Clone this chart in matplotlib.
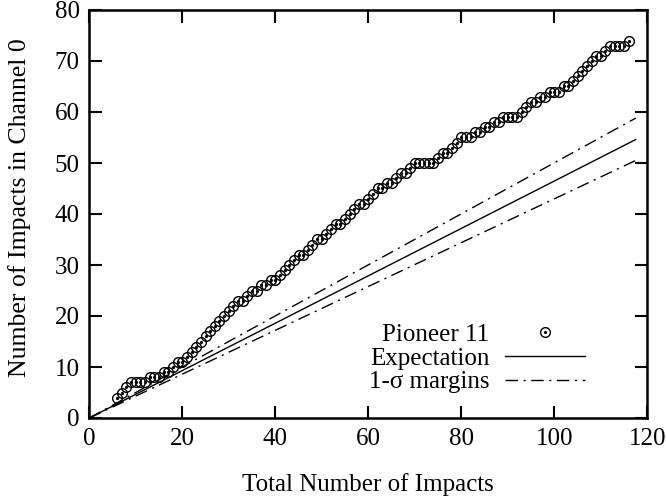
import matplotlib.pyplot as plt
from matplotlib.legend_handler import HandlerTuple

plt.rcParams['font.family'] = ['Liberation Serif', 'DejaVu Serif']

# Cumulative channel 0 counts against total number of impacts
total_impacts = list(range(6, 117))
channel0 = [4, 5, 6, 7, 7, 7, 7, 8, 8, 8, 9, 9, 10, 11, 11, 12, 13, 14, 15, 16,
            17, 18, 19, 20, 21, 22, 23, 23, 24, 25, 25, 26, 26, 27, 27, 28, 29, 30, 31, 32,
            32, 33, 34, 35, 35, 36, 37, 38, 38, 39, 40, 41, 42, 42, 43, 44, 45, 45, 46, 46,
            47, 48, 48, 49, 50, 50, 50, 50, 50, 51, 52, 52, 53, 54, 55, 55, 55, 56, 56, 57,
            57, 58, 58, 59, 59, 59, 59, 60, 61, 62, 62, 63, 63, 64, 64, 64, 65, 65, 66, 67,
            68, 69, 70, 71, 71, 72, 73, 73, 73, 73, 74]

# Expectation and 1-sigma margins
line_x = [0, 117.5]
expect_y = [0, 54.6]
upper_y = [0, 58.8]
lower_y = [0, 50.5]

fs = 18

fig = plt.figure(figsize=(6.66, 5.0), dpi=100)
ax = fig.add_axes([0.134, 0.164, 0.838, 0.816])

pts = ax.plot(total_impacts, channel0, linestyle='none', marker='o', markersize=7,
              markerfacecolor='none', markeredgecolor='black', markeredgewidth=1.0)[0]
dots = ax.plot(total_impacts, channel0, linestyle='none', marker='o', markersize=1.3,
               color='black')[0]
exp_line, = ax.plot(line_x, expect_y, color='black', lw=1.0)
sig_line, = ax.plot(line_x, upper_y, color='black', lw=1.0, dashes=(9, 4, 1.5, 4))
ax.plot(line_x, lower_y, color='black', lw=1.0, dashes=(9, 4, 1.5, 4))

ax.set_xlim(0, 120)
ax.set_ylim(0, 80)
ax.set_xticks(range(0, 121, 20))
ax.set_yticks(range(0, 81, 10))
ax.tick_params(direction='in', length=9, width=1.5, labelsize=fs, pad=7,
               top=True, right=True)
for s in ax.spines.values():
    s.set_linewidth(1.8)

ax.set_xlabel('Total Number of Impacts', fontsize=fs, labelpad=17)
ax.set_ylabel('Number of Impacts in Channel 0', fontsize=18.5)
ax.yaxis.set_label_coords(-0.104, 0.515)

ax.legend([(pts, dots), exp_line, sig_line],
          ['Pioneer 11', 'Expectation', '1-σ margins'],
          handler_map={tuple: HandlerTuple(ndivide=1)},
          markerfirst=False, frameon=False, fontsize=fs, loc='lower right',
          bbox_to_anchor=(0.91, 0.03), handlelength=3.2, labelspacing=0.05,
          handletextpad=0.6, borderpad=0)

fig.savefig('out.png', dpi=100)
